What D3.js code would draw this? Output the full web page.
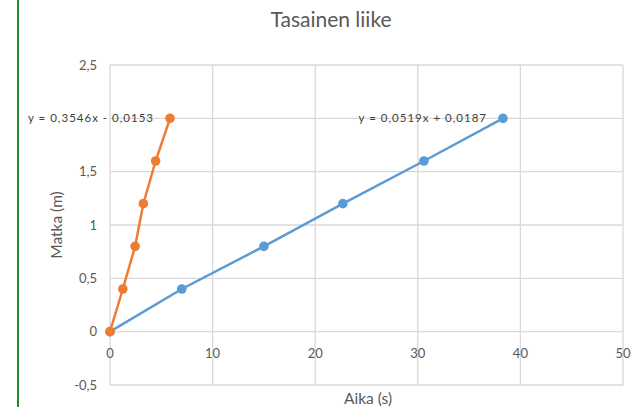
<!DOCTYPE html>
<html>
<head>
<meta charset="utf-8">
<script src="https://cdn.jsdelivr.net/npm/d3@7"></script>
<style>
  body { margin: 0; background: #fff; }
  svg { display: block; font-family: Lato, "Open Sans", sans-serif; }
</style>
</head>
<body>
<div id="chart"></div>
<script>
// data
const timeA = [0, 7.0, 15.0, 22.7, 30.6, 38.3];
const distA = [0, 0.4, 0.8, 1.2, 1.6, 2.0];
const timeB = [0, 1.25, 2.45, 3.25, 4.45, 5.85];
const distB = [0, 0.4, 0.8, 1.2, 1.6, 2.0];
const xTicks = [0, 10, 20, 30, 40, 50];
const yTicks = [-0.5, 0, 0.5, 1, 1.5, 2, 2.5];
const eqA = "y = 0,0519x + 0,0187";
const eqB = "y = 0,3546x - 0,0153";

const W = 637, H = 407;
const svg = d3.select("#chart").append("svg")
    .attr("width", W).attr("height", H);

// green left border
svg.append("rect").attr("x", 17).attr("y", 0).attr("width", 2).attr("height", H).attr("fill", "#1e8c2e");

const x = d3.scaleLinear().domain([0, 50]).range([110, 623]);
const y = d3.scaleLinear().domain([-0.5, 2.5]).range([385, 65]);
const fmt = d => String(d).replace(".", ",");

// grid
svg.append("g").selectAll("line").data(yTicks).join("line")
    .attr("x1", x(0)).attr("x2", x(50))
    .attr("y1", d => y(d)).attr("y2", d => y(d))
    .attr("stroke", "#d9d9d9").attr("stroke-width", 1.3);
svg.append("g").selectAll("line").data(xTicks).join("line")
    .attr("x1", d => x(d)).attr("x2", d => x(d))
    .attr("y1", y(2.5)).attr("y2", y(-0.5))
    .attr("stroke", "#d9d9d9").attr("stroke-width", 1.3);

// tick labels (the "2" label sits under the trendline equation in the original)
svg.append("g").selectAll("text").data(yTicks.filter(d => d !== 2)).join("text")
    .attr("x", 97).attr("y", d => y(d)).attr("dy", "0.35em")
    .attr("text-anchor", "end").attr("font-size", 13).attr("fill", "#595959")
    .text(fmt);
svg.append("g").selectAll("text").data(xTicks).join("text")
    .attr("x", d => x(d)).attr("y", y(0) + 26)
    .attr("text-anchor", "middle").attr("font-size", 13).attr("fill", "#595959")
    .text(fmt);

// titles
svg.append("text").attr("x", 331).attr("y", 27).attr("text-anchor", "middle")
    .attr("font-size", 21).attr("fill", "#595959").text("Tasainen liike");
svg.append("text").attr("x", 368).attr("y", 404).attr("text-anchor", "middle")
    .attr("font-size", 15.5).attr("fill", "#595959").text("Aika (s)");
svg.append("text").attr("transform", `translate(62,${y(1)}) rotate(-90)`)
    .attr("text-anchor", "middle").attr("font-size", 15.5).attr("fill", "#595959").text("Matka (m)");

// series
const series = [
    { t: timeA, d: distA, color: "#5b9bd5" },
    { t: timeB, d: distB, color: "#ed7d31" }
];
const line = d3.line().x(p => x(p[0])).y(p => y(p[1]));
series.forEach(s => {
    const pts = s.t.map((t, i) => [t, s.d[i]]);
    svg.append("path").datum(pts).attr("d", line)
        .attr("fill", "none").attr("stroke", s.color).attr("stroke-width", 2.5);
    svg.append("g").selectAll("circle").data(pts).join("circle")
        .attr("cx", p => x(p[0])).attr("cy", p => y(p[1])).attr("r", 4.8)
        .attr("fill", s.color);
});

// trendline equations
svg.append("text").attr("x", 487).attr("y", y(2)).attr("dy", "0.35em")
    .attr("text-anchor", "end").attr("font-size", 11.5).attr("letter-spacing", 1)
    .attr("fill", "#404040").text(eqA);
svg.append("text").attr("x", 154).attr("y", y(2)).attr("dy", "0.35em")
    .attr("text-anchor", "end").attr("font-size", 11.5).attr("letter-spacing", 1)
    .attr("fill", "#404040").text(eqB);
</script>
</body>
</html>
